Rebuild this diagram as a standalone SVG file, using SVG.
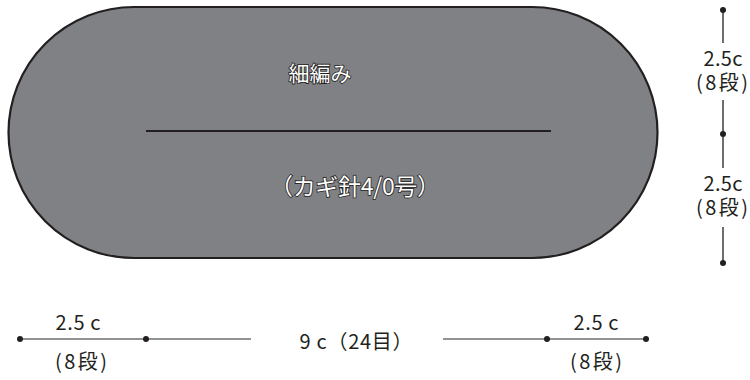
<svg xmlns="http://www.w3.org/2000/svg" width="750" height="380" viewBox="0 0 750 380">
<style>
.t{font-family:"Noto Sans CJK JP","Noto Sans",sans-serif;font-size:20px;fill:#231f20;text-anchor:middle}
.w{font-family:"Noto Sans CJK JP","Noto Sans",sans-serif;font-size:21px;fill:#fff;stroke:#231f20;stroke-width:1.6;paint-order:stroke;text-anchor:middle}
.d{stroke:#231f20;stroke-width:1.3;fill:none}
.g{stroke:#6d6e71;stroke-width:1.5;fill:none}
.p{fill:#231f20}
</style>
<g id="shape">
<path d="M134,7 H532 A125.5,125.5 0 0 1 532,258 H134 A125.5,125.5 0 0 1 134,7 Z" fill="#808184" stroke="#231f20" stroke-width="2.2"/>
<line x1="146" y1="131" x2="551" y2="131" stroke="#231f20" stroke-width="2"/>
<text class="w" x="320" y="81">細編み</text>
<text class="w" x="355" y="195" style="font-size:23px" textLength="170">（カギ針4/0号）</text>
</g>
<g id="connectors">
<line class="d" x1="723" y1="10" x2="723" y2="43"/>
<line class="d" x1="723" y1="100" x2="723" y2="168"/>
<line class="d" x1="723" y1="227" x2="723" y2="263"/>
<line class="g" x1="20" y1="339" x2="251" y2="339"/>
<line class="g" x1="443" y1="339" x2="646" y2="339"/>
<circle class="p" cx="723" cy="10" r="3"/>
<circle class="p" cx="723" cy="134" r="3"/>
<circle class="p" cx="723" cy="263" r="3"/>
<circle class="p" cx="20" cy="339" r="3"/>
<circle class="p" cx="146" cy="339" r="3"/>
<circle class="p" cx="547" cy="339" r="3"/>
<circle class="p" cx="646" cy="339" r="3"/>
</g>
<g id="labels">
<text class="t" x="723" y="66" textLength="39">2.5c</text>
<text class="t" x="722" y="90" textLength="52">(8段)</text>
<text class="t" x="723" y="191" textLength="39">2.5c</text>
<text class="t" x="722" y="215" textLength="52">(8段)</text>
<text class="t" x="78" y="330" textLength="45">2.5 c</text>
<text class="t" x="81" y="369" textLength="52">(8段)</text>
<text class="t" x="356" y="349" textLength="113">9 c（24目）</text>
<text class="t" x="596" y="330" textLength="45">2.5 c</text>
<text class="t" x="596" y="369" textLength="52">(8段)</text>
</g>
</svg>
